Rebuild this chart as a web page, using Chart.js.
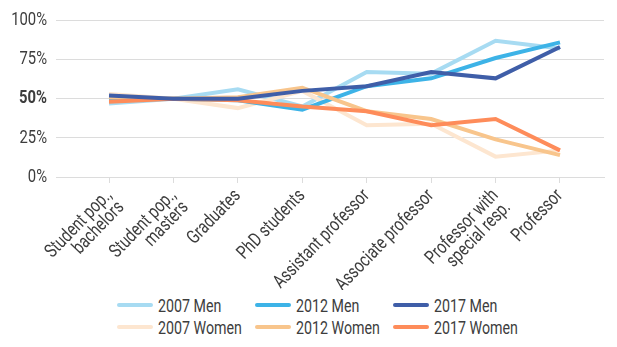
<!DOCTYPE html>
<html>
<head>
<meta charset="utf-8">
<script src="https://cdn.jsdelivr.net/npm/chart.js@4"></script>
<style>
  html, body { margin: 0; padding: 0; background: #fff; }
  #wrap { position: relative; width: 617px; height: 290px; }
  #legend {
    position: absolute; left: 117px; top: 295px;
    display: grid; grid-template-columns: 138px 138px 138px; row-gap: 2px;
    font-family: Roboto, sans-serif;
    font-size: 18px; color: #3d3d3d;
  }
  .item { display: flex; align-items: center; height: 20px; white-space: nowrap; }
  .swatch { width: 36px; height: 4px; border-radius: 2px; margin-right: 5px; flex: none; }
  .txt { display: inline-block; transform: scaleX(0.79); transform-origin: left center; }
</style>
</head>
<body>
<div id="wrap"><canvas id="chart" width="617" height="290"></canvas></div>
<div id="legend"></div>
<script>
// Категории и данные (доля, %)
const categories = [
  ["Student pop.,", "bachelors"],
  ["Student pop.,", "masters"],
  "Graduates",
  "PhD students",
  "Assistant professor",
  "Associate professor",
  ["Professor with", "special resp."],
  "Professor",
];
const yTicks = [0, 25, 50, 75, 100];

const men2007 = [47, 50, 56, 45, 67, 66, 87, 82];
const men2012 = [49, 50, 49, 43, 58, 63, 76, 86];
const men2017 = [52, 50, 50, 55, 58, 67, 63, 83];
const women2007 = [53, 50, 44, 55, 33, 34, 13, 17];
const women2012 = [51, 50, 51, 57, 42, 37, 24, 14];
const women2017 = [48, 50, 49, 45, 42, 33, 37, 17];

const FONT = "Roboto, sans-serif";
const SX = 0.78; // сжатие шрифта по горизонтали (узкий шрифт)

const series = [
  { label: "2007 Men", data: men2007, color: "#a7dbf2", order: 6 },
  { label: "2012 Men", data: men2012, color: "#3db3e7", order: 4 },
  { label: "2017 Men", data: men2017, color: "#3f5ea8", order: 1 },
  { label: "2007 Women", data: women2007, color: "#fde6d0", order: 5 },
  { label: "2012 Women", data: women2012, color: "#f8c58c", order: 3 },
  { label: "2017 Women", data: women2017, color: "#fe8c5a", order: 2 },
];

// Узкий текст на канве: сжимаем fillText / measureText
const canvas = document.getElementById("chart");
const c2d = canvas.getContext("2d");
const fillText0 = c2d.fillText;
const measure0 = c2d.measureText;
c2d.fillText = function (text, x, y, maxWidth) {
  this.save();
  this.scale(SX, 1);
  if (maxWidth === undefined || maxWidth === null) fillText0.call(this, text, x / SX, y);
  else fillText0.call(this, text, x / SX, y, maxWidth / SX);
  this.restore();
};
c2d.measureText = function (text) {
  const m = measure0.call(this, text);
  return { width: m.width * SX };
};

const datasets = series.map((s) => ({
  label: s.label,
  data: s.data.map((v, i) => ({ x: i, y: v })),
  borderColor: s.color,
  backgroundColor: s.color,
  borderWidth: 4,
  pointRadius: 0,
  tension: 0,
  order: s.order,
}));

new Chart(canvas, {
  type: "line",
  data: { datasets },
  options: {
    responsive: false,
    animation: false,
    layout: { padding: { top: 20, right: 13, left: 0, bottom: 0 } },
    plugins: { legend: { display: false }, tooltip: { enabled: false } },
    scales: {
      x: {
        type: "linear",
        min: -0.823,
        max: 7.683,
        afterBuildTicks: (axis) => {
          axis.ticks = categories.map((c, i) => ({ value: i }));
        },
        afterFit: (axis) => { axis.height = 113; },
        grid: { drawOnChartArea: false, drawTicks: true, tickLength: 6, color: "#dcdcdc" },
        border: { color: "#dcdcdc" },
        ticks: {
          autoSkip: false,
          minRotation: 46,
          maxRotation: 46,
          padding: 4,
          color: "#3d3d3d",
          font: { family: FONT, size: 19, lineHeight: 0.9 },
          callback: (v) => categories[v],
        },
      },
      y: {
        min: 0,
        max: 100,
        afterBuildTicks: (axis) => {
          axis.ticks = yTicks.map((v) => ({ value: v }));
        },
        afterFit: (axis) => { axis.width = 56; },
        grid: { color: "#dcdcdc", drawTicks: false },
        border: { display: false },
        ticks: {
          padding: 9,
          color: "#3d3d3d",
          font: (ctx) => ({
            family: FONT,
            size: 19,
            weight: ctx.tick && ctx.tick.value === 50 ? "bold" : "normal",
          }),
          callback: (v) => v + "%",
        },
      },
    },
  },
});

// Легенда
const legend = document.getElementById("legend");
series.forEach((s) => {
  const item = document.createElement("div");
  item.className = "item";
  const sw = document.createElement("span");
  sw.className = "swatch";
  sw.style.background = s.color;
  const t = document.createElement("span");
  t.className = "txt";
  t.textContent = s.label;
  item.appendChild(sw);
  item.appendChild(t);
  legend.appendChild(item);
});
</script>
</body>
</html>
